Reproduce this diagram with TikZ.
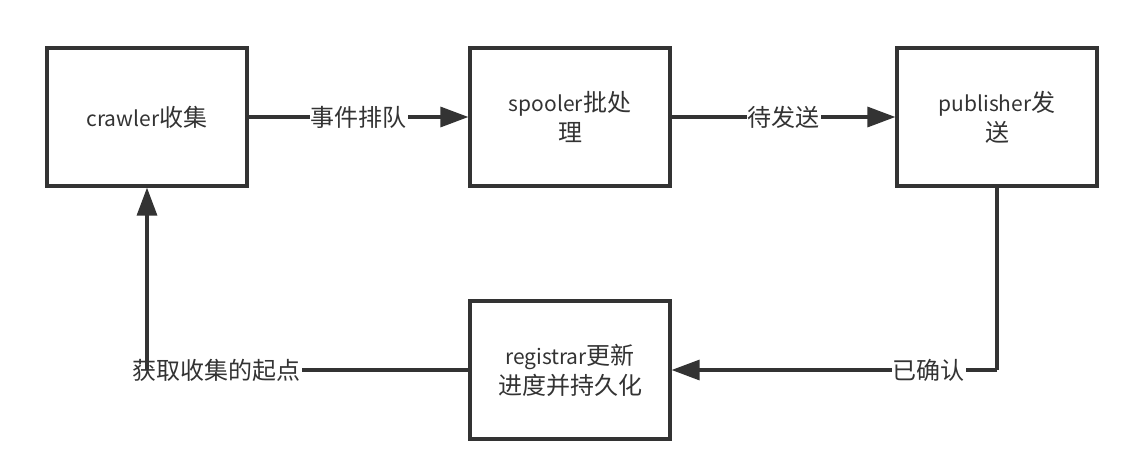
\documentclass[tikz,border=0pt]{standalone}
\usepackage{fontspec}
\setmainfont{Noto Sans CJK SC}
\usetikzlibrary{arrows.meta}
\definecolor{ink}{HTML}{333333}
\newcommand\lt[1]{{\fontsize{21}{30}\selectfont #1}}
\begin{document}
\begin{tikzpicture}[x=1pt,y=-1pt,
  box/.style={draw=ink,line width=3.2pt,minimum width=200pt,minimum height=138pt,inner sep=0pt,align=center,text=ink,font=\fontsize{24}{30}\selectfont},
  conn/.style={draw=ink,line width=3.2pt},
  arr/.style={conn,-{Triangle[length=28pt,width=20pt]}},
  lab/.style={fill=white,text=ink,inner sep=1pt,font=\fontsize{24}{28}\selectfont}]
\useasboundingbox[fill=white] (0,0) rectangle (1130,472);
\node[box] (crawler) at (147,117) {\lt{crawler}收集};
\node[box] (spooler) at (570,117) {\lt{spooler}批处\\理};
\node[box] (publisher) at (997,117) {\lt{publisher}发\\送};
\node[box] (registrar) at (570,370) {\lt{registrar}更新\\进度并持久化};
\coordinate (c1) at (997,370);
\coordinate (c2) at (147,370);
\draw[arr] (crawler) -- node[lab] {事件排队} (spooler);
\draw[arr] (spooler) -- node[lab] {待发送} (publisher);
\draw[conn] (publisher.south) -- (c1);
\draw[arr] (c1) -- node[lab,pos=0.21] {已确认} (registrar.east);
\draw[conn] (registrar.west) -- node[lab,pos=0.783] {获取收集的起点} (c2);
\draw[arr] (c2) -- (crawler.south);
\end{tikzpicture}
\end{document}
